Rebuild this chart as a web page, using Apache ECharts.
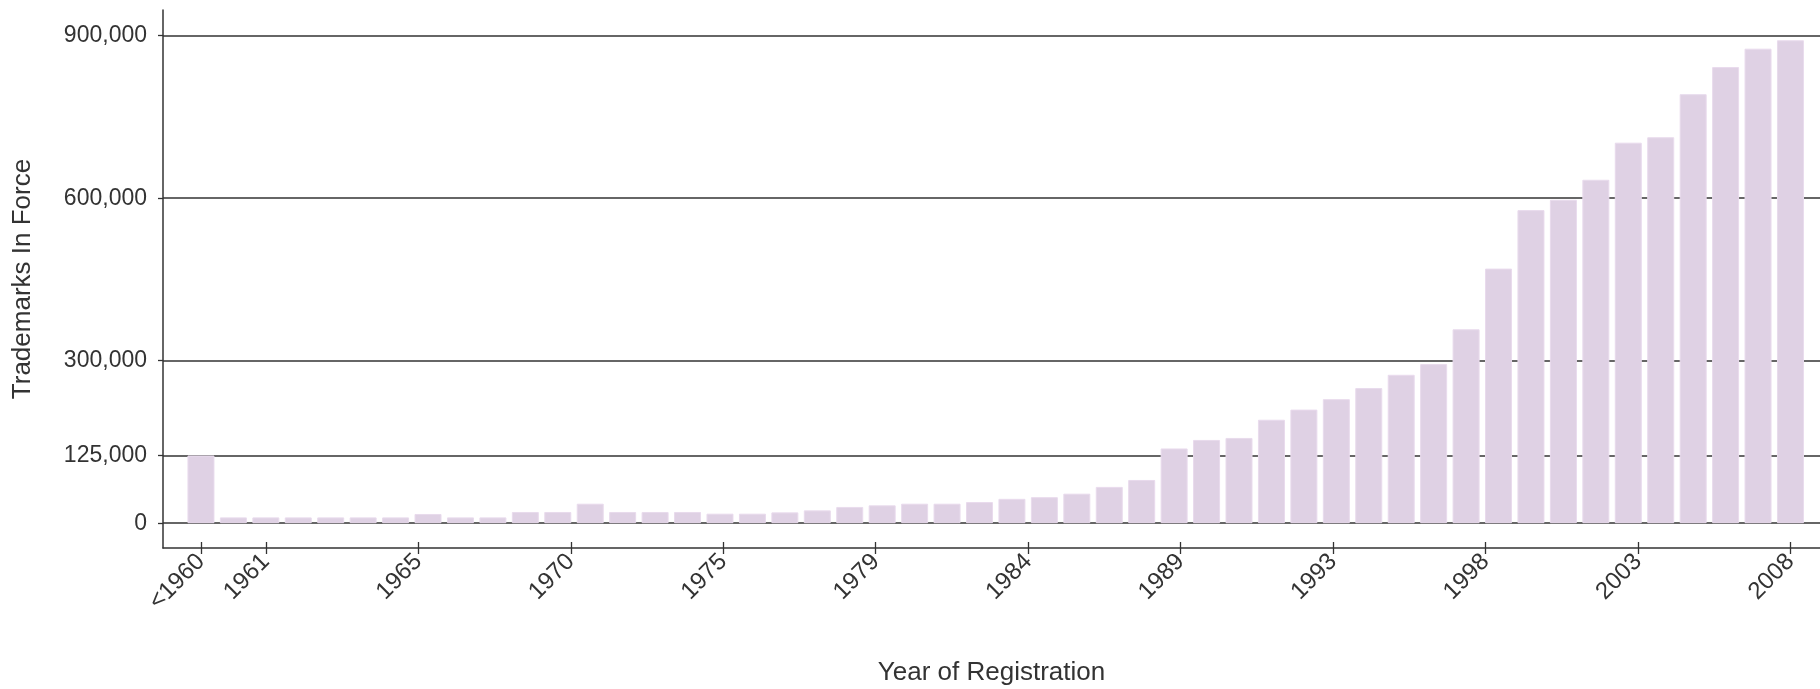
<!DOCTYPE html>
<html>
<head>
<meta charset="utf-8">
<title>Trademarks In Force</title>
<script src="https://cdn.jsdelivr.net/npm/echarts@6/dist/echarts.min.js"></script>
<style>
    html, body { margin: 0; padding: 0; background: #fff; }
    #chart { width: 1820px; height: 689px; }
</style>
</head>
<body>
<div id="chart"></div>
<script>
// registration year buckets, one bar each
const years = [
    '<1960', '1960', '1961', '1962', '1963', '1964', '1965', '1966', '1967', '1968',
    '1969', '1970', '1971', '1972', '1973', '1974', '1975', '1976', '1977', '1978',
    '1979', '1980', '1981', '1982', '1983', '1984', '1985', '1986', '1987', '1988',
    '1989', '1990', '1991', '1992', '1993', '1994', '1995', '1996', '1997', '1998',
    '1999', '2000', '2001', '2002', '2003', '2004', '2005', '2006', '2007', '2008'
];
// trademarks in force
const inForce = [
    125000, 10700, 10700, 10700, 10700, 10700, 10700, 17000, 10700, 10700,
    20700, 20700, 36000, 20700, 20700, 20700, 17600, 17600, 20000, 23700,
    30000, 33000, 36000, 36000, 39000, 45000, 48000, 54500, 67000, 79800,
    138000, 153700, 157400, 191000, 209700, 229000, 249500, 274000, 293700, 358000,
    470000, 578000, 597000, 634000, 702500, 712500, 792000, 842000, 876000, 891500
];
const tickLabels = ['<1960', '1961', '1965', '1970', '1975', '1979', '1984', '1989', '1993', '1998', '2003', '2008'];
const yTicks = [0, 125000, 300000, 600000, 900000];

// the first label sits on its own bar, the rest are spread evenly from 1961 to 2008
const firstIdx = years.indexOf(tickLabels[1]);
const lastIdx = years.indexOf(tickLabels[tickLabels.length - 1]);
const step = (lastIdx - firstIdx) / (tickLabels.length - 2);
const tickPos = tickLabels.map((l, i) => i === 0 ? years.indexOf(l) : firstIdx + (i - 1) * step);

const ink = '#333';
const font = 'Liberation Sans, Arial, sans-serif';

const labelFor = (v) => {
    let best = 0;
    tickPos.forEach((p, i) => { if (Math.abs(p - v) < Math.abs(tickPos[best] - v)) best = i; });
    return tickLabels[best];
};

const xCommon = {
    type: 'value',
    min: -1.17,
    max: 49.91,
    position: 'bottom',
    splitLine: { show: false },
};

const myChart = echarts.init(document.getElementById('chart'));
myChart.setOption({
    animation: false,
    textStyle: { fontFamily: font },
    grid: { left: 163, right: 0, top: 10, bottom: 141, containLabel: false, outerBoundsMode: 'none' },
    xAxis: [
        {
            ...xCommon,
            axisLine: { show: true, onZero: false, lineStyle: { color: ink, width: 1.5 } },
            axisTick: { show: true, customValues: tickPos, length: 6, lineStyle: { color: ink, width: 1.3 } },
            axisLabel: {
                customValues: tickPos,
                formatter: labelFor,
                rotate: 45,
                margin: 10,
                fontSize: 24,
                color: ink,
                fontFamily: font,
            },
            name: 'Year of Registration',
            nameLocation: 'middle',
            nameGap: 112,
            nameTextStyle: { fontSize: 26, color: ink, fontFamily: font },
        },
        {
            // short ticks poking up through the axis line
            ...xCommon,
            axisLine: { show: false, onZero: false },
            axisTick: { show: true, inside: true, customValues: tickPos, length: 6, lineStyle: { color: ink, width: 1.3 } },
            axisLabel: { show: false },
        }
    ],
    yAxis: {
        type: 'value',
        min: -45800,
        max: 947400,
        axisLine: { show: true, onZero: false, lineStyle: { color: ink, width: 1.5 } },
        axisTick: { show: true, customValues: yTicks, length: 5, lineStyle: { color: ink, width: 1.3 } },
        axisLabel: {
            customValues: yTicks,
            formatter: (v) => v.toLocaleString('en-US'),
            margin: 16,
            fontSize: 23,
            color: ink,
            fontFamily: font,
        },
        splitLine: { show: true, lineStyle: { color: ink, width: 1.5 } },
        name: 'Trademarks In Force',
        nameLocation: 'middle',
        nameGap: 127,
        nameTextStyle: { fontSize: 26, color: ink, fontFamily: font },
    },
    series: [
        {
            name: 'Trademarks In Force',
            type: 'bar',
            xAxisIndex: 0,
            data: inForce.map((v, i) => [i, v]),
            barWidth: 27,
            itemStyle: { color: '#dfd1e4', borderColor: '#e9dbed', borderWidth: 1 },
        }
    ]
});
</script>
</body>
</html>
